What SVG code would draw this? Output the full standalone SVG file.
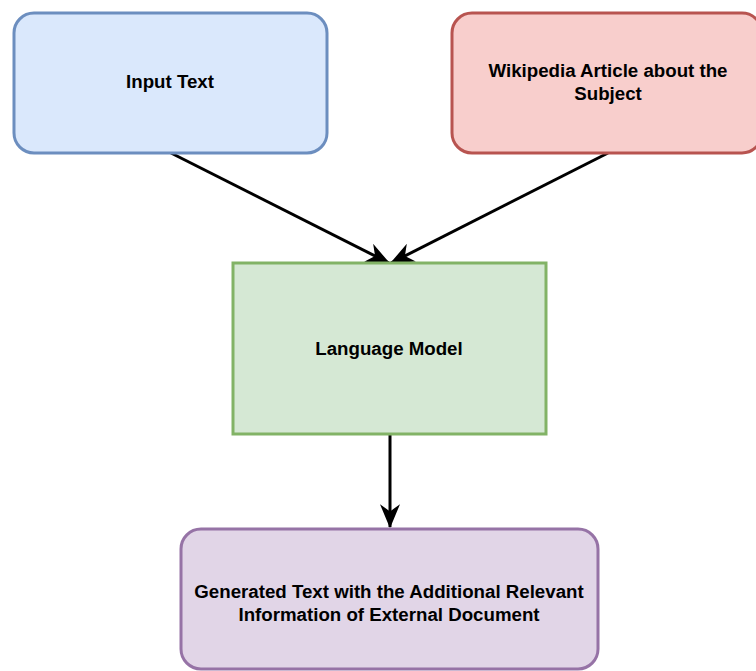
<svg xmlns="http://www.w3.org/2000/svg" width="756" height="671" viewBox="0 0 756 671">
<defs>
<style>
.lbl{font-family:"Liberation Sans",Arial,sans-serif;font-weight:bold;font-size:18.7px;fill:#000;text-anchor:middle}
.edge{stroke:#000;stroke-width:3;fill:none;marker-end:url(#ah)}
</style>
<marker id="ah" viewBox="0 0 10 10" refX="9.5" refY="5" markerWidth="24" markerHeight="20" markerUnits="userSpaceOnUse" orient="auto" preserveAspectRatio="none">
<path d="M0,0 L10,5 L0,10 L3,5 Z" fill="#000"/>
</marker>
</defs>
<rect width="756" height="671" fill="#fff"/>
<g id="connectors">
<line class="edge" x1="171" y1="153" x2="389" y2="263"/>
<line class="edge" x1="608" y1="153" x2="391" y2="263"/>
<line class="edge" x1="390" y1="434" x2="390" y2="527"/>
</g>
<g id="input">
<rect x="14" y="13" width="313" height="140" rx="20" fill="#dae8fc" stroke="#6c8ebf" stroke-width="3"/>
<text class="lbl" x="170" y="88">Input Text</text>
</g>
<g id="wiki">
<rect x="452" y="13" width="310" height="140" rx="20" fill="#f8cecc" stroke="#b85450" stroke-width="3"/>
<text class="lbl" x="608" y="77">Wikipedia Article about the</text>
<text class="lbl" x="608" y="100">Subject</text>
</g>
<g id="model">
<rect x="233" y="263" width="313" height="171" fill="#d5e8d4" stroke="#82b366" stroke-width="3"/>
<text class="lbl" x="389" y="355">Language Model</text>
</g>
<g id="output">
<rect x="181" y="529" width="417" height="140" rx="20" fill="#e1d5e7" stroke="#9673a6" stroke-width="3"/>
<text class="lbl" x="389" y="598">Generated Text with the Additional Relevant</text>
<text class="lbl" x="389" y="621">Information of External Document</text>
</g>
</svg>
